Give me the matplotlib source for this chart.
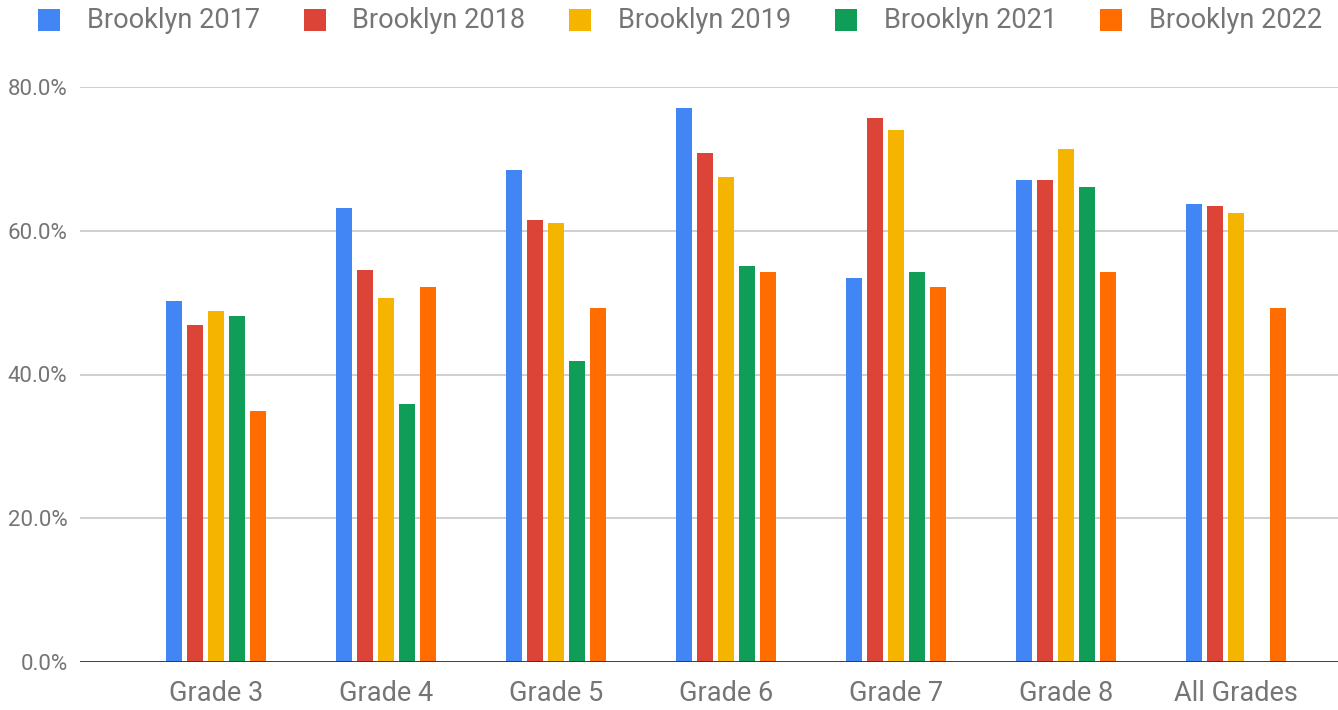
import numpy as np
import matplotlib
matplotlib.use("Agg")
import matplotlib.pyplot as plt
from matplotlib.patches import Rectangle

plt.rcParams['font.family'] = ['Roboto', 'DejaVu Sans']

grades = ['Grade 3', 'Grade 4', 'Grade 5', 'Grade 6', 'Grade 7', 'Grade 8', 'All Grades']
series_names = ['Brooklyn 2017', 'Brooklyn 2018', 'Brooklyn 2019', 'Brooklyn 2021', 'Brooklyn 2022']
colors = ['#4285F4', '#DB4437', '#F4B400', '#0F9D58', '#FF6D01']

bk2017 = [50.2, 63.2, 68.5, 77.1, 53.4, 67.1, 63.7]
bk2018 = [46.9, 54.5, 61.5, 70.8, 75.7, 67.1, 63.4]
bk2019 = [48.8, 50.6, 61.1, 67.5, 74.0, 71.4, 62.5]
bk2021 = [48.1, 35.9, 41.9, 55.1, 54.3, 66.1, np.nan]
bk2022 = [34.9, 52.2, 49.3, 54.3, 52.2, 54.3, 49.3]
series = [bk2017, bk2018, bk2019, bk2021, bk2022]

W, H = 1338, 710
fig = plt.figure(figsize=(W / 100, H / 100), dpi=100)
ax = fig.add_axes([80 / W, 1 - 662 / H, 1 - 80 / W, (662 - 87) / H])

x = np.arange(len(grades))
step = 0.1235
width = 0.094
for i, (vals, c) in enumerate(zip(series, colors)):
    ax.bar(x + (i - 2) * step, vals, width=width, color=c, zorder=3)

ax.set_xlim(-0.8, 6.6)
ax.set_ylim(0, 80)
ax.set_yticks([0, 20, 40, 60, 80])
ax.set_yticklabels(['0.0%', '20.0%', '40.0%', '60.0%', '80.0%'])
ax.set_xticks(x)
ax.set_xticklabels(grades)
ax.grid(axis='y', color='#cccccc', linewidth=1.3, zorder=0)
ax.axhline(0, color='#333333', linewidth=2, zorder=4)
for s in ax.spines.values():
    s.set_visible(False)
ax.tick_params(axis='both', length=0, colors='#757575')
ax.tick_params(axis='y', labelsize=16, pad=9)
ax.tick_params(axis='x', labelsize=19.5, pad=13)

# legend drawn by hand so the spacing follows the original
for i, (name, c) in enumerate(zip(series_names, colors)):
    x0 = 38 + 265.5 * i
    fig.patches.append(Rectangle((x0 / W, 1 - 31 / H), 22 / W, 22 / H,
                                 transform=fig.transFigure, facecolor=c,
                                 edgecolor='none'))
    fig.text((x0 + 49) / W, 1 - 20 / H, name, fontsize=19.5, color='#757575',
             va='center', ha='left')

fig.savefig('out.png', dpi=100)
